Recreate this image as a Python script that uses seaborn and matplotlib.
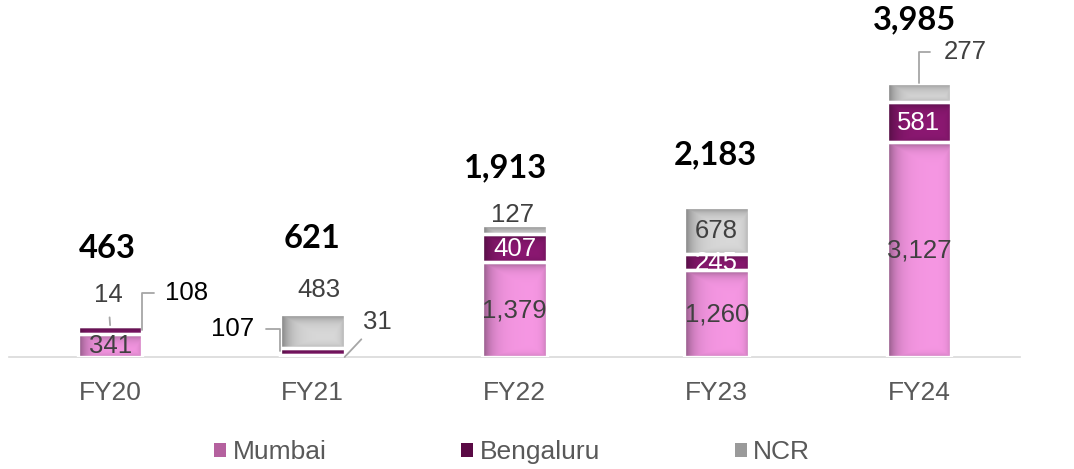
import numpy as np
import pandas as pd
import matplotlib
matplotlib.use("Agg")
import matplotlib.pyplot as plt
from matplotlib.colors import to_rgb
from matplotlib.patches import Patch
import seaborn as sns

# ---------------- data ----------------
years = ["FY20", "FY21", "FY22", "FY23", "FY24"]
mumbai = [341, 31, 1379, 1260, 3127]
bengaluru = [108, 107, 407, 245, 581]
ncr = [14, 483, 127, 678, 277]
totals = [463, 621, 1913, 2183, 3985]
series_names = ["Mumbai", "Bengaluru", "NCR"]

# ---------------- style ----------------
sns.set_theme(style="white")
plt.rcParams["font.family"] = ["Liberation Sans", "DejaVu Sans"]

W, H, DPI = 10.74, 4.69, 100
fig = plt.figure(figsize=(W, H), dpi=DPI)
ax_left, ax_right, ax_bottom_px, ax_top_px = 9, 1020, 357, 10
ax = fig.add_axes([ax_left / 1074, (469 - ax_bottom_px) / 469,
                   (ax_right - ax_left) / 1074, (ax_bottom_px - ax_top_px) / 469])

colors = {"Mumbai": "#f697e3", "Bengaluru": "#8c1872", "NCR": "#d9d9d9"}
legend_colors = {"Mumbai": "#b5619f", "Bengaluru": "#5a0a45", "NCR": "#9a9a9a"}
label_colors = {"Mumbai": "#404040", "Bengaluru": "white", "NCR": "#404040"}
BAR_W = 0.32

ax.set_xlim(-0.5, 4.5)
ax.set_ylim(0, 5047)

df = pd.DataFrame({"year": years, "Mumbai": mumbai, "Bengaluru": bengaluru, "NCR": ncr})
bottoms = np.zeros(len(years))
seg_patches = {}
seg_bottoms = {}
for name in series_names:
    n0 = len(ax.patches)
    sns.barplot(data=df, x="year", y=name, color=colors[name], width=BAR_W,
                bottom=bottoms.copy(), errorbar=None, ax=ax,
                edgecolor="white", linewidth=2.4, saturation=1, zorder=3)
    seg_patches[name] = list(ax.patches[n0:])
    seg_bottoms[name] = bottoms.copy()
    bottoms = bottoms + df[name].to_numpy()

ax.set_xlim(-0.5, 4.5)
ax.set_ylim(0, 5047)

# gradient ("inner shadow") fill for each segment
def shade(patch, base):
    bb = patch.get_window_extent()
    nx = max(int(round(bb.width)), 2)
    ny = max(int(round(bb.height)), 2)
    xs = np.arange(nx) + 0.5
    ys = np.arange(ny) + 0.5
    dl = xs[None, :]
    dr = (nx - xs)[None, :]
    dt = ys[:, None]
    db = (ny - ys)[:, None]
    s = np.maximum.reduce([
        np.exp(-dl / 9.0) * np.ones((ny, 1)),
        0.95 * np.exp(-dt / 5.0) * np.ones((1, nx)),
        0.5 * np.exp(-dr / 3.5) * np.ones((ny, 1)),
        0.4 * np.exp(-db / 3.0) * np.ones((1, nx)),
    ])
    rgb = np.array(to_rgb(base))
    img = rgb[None, None, :] * (1 - 0.48 * s[..., None])
    x0, y0 = patch.get_x(), patch.get_y()
    ax.imshow(np.clip(img, 0, 1), extent=(x0, x0 + patch.get_width(), y0, y0 + patch.get_height()),
              origin="upper", aspect="auto", interpolation="bilinear", zorder=2)
    patch.set_facecolor("none")

for name in series_names:
    for p in seg_patches[name]:
        if p.get_height() > 0:
            shade(p, colors[name])

ax.set_xlim(-0.5, 4.5)
ax.set_ylim(0, 5047)

# ---------------- labels ----------------
VFS = 18.5
def inner(i, name, val):
    y = seg_bottoms[name][i] + val / 2
    ax.annotate(f"{val:,}", (i, y), xytext=(0, -1), textcoords="offset pixels",
                ha="center", va="center", fontsize=VFS, color=label_colors[name], zorder=5)

lead = dict(arrowstyle="-", color="#a6a6a6", lw=1.3)

# FY20
inner(0, "Mumbai", mumbai[0])
ax.annotate(f"{ncr[0]:,}", (0, totals[0]), xytext=(-2, 30), textcoords="offset pixels",
            ha="center", va="center", fontsize=VFS, color="#404040",
            arrowprops=dict(**lead, shrinkA=5, shrinkB=0))
ax.annotate(f"{bengaluru[0]:,}", (BAR_W / 2, mumbai[0] + bengaluru[0] / 2), xytext=(23, 37),
            textcoords="offset pixels", ha="left", va="center", fontsize=VFS, color="black",
            arrowprops=dict(**lead, shrinkA=6, shrinkB=0, connectionstyle="angle,angleA=0,angleB=90,rad=0"))
# FY21
ax.annotate(f"{ncr[1]:,}", (1, totals[1]), xytext=(7, 24), textcoords="offset pixels",
            ha="center", va="center", fontsize=VFS, color="#404040")
ax.annotate(f"{bengaluru[1]:,}", (1 - BAR_W / 2, mumbai[1] + bengaluru[1] / 2), xytext=(-26, 22),
            textcoords="offset pixels", ha="right", va="center", fontsize=VFS, color="black",
            arrowprops=dict(**lead, shrinkA=6, shrinkB=0, connectionstyle="angle,angleA=0,angleB=90,rad=0"))
ax.annotate(f"{mumbai[1]:,}", (1 + BAR_W / 2, 0), xytext=(33, 35), textcoords="offset pixels",
            ha="center", va="center", fontsize=VFS, color="#404040",
            arrowprops=dict(**lead, shrinkA=2, shrinkB=0))
# FY22
inner(2, "Mumbai", mumbai[2])
inner(2, "Bengaluru", bengaluru[2])
ax.annotate(f"{ncr[2]:,}", (2, totals[2]), xytext=(-2, 10), textcoords="offset pixels",
            ha="center", va="center", fontsize=VFS, color="#404040", zorder=5)
# FY23
inner(3, "Mumbai", mumbai[3])
inner(3, "Bengaluru", bengaluru[3])
inner(3, "NCR", ncr[3])
# FY24
inner(4, "Mumbai", mumbai[4])
inner(4, "Bengaluru", bengaluru[4])
ax.annotate(f"{ncr[4]:,}", (4, totals[4]), xytext=(25, 31), textcoords="offset pixels",
            ha="left", va="center", fontsize=VFS, color="#404040",
            arrowprops=dict(**lead, shrinkA=8, shrinkB=0, connectionstyle="angle,angleA=0,angleB=90,rad=0"))

# totals
tot_off = [(-3, 77), (0, 76), (-9, 58), (-1, 52), (-4, 63)]
for i, t in enumerate(totals):
    ax.annotate(f"{t:,}", (i, t), xytext=tot_off[i], textcoords="offset pixels",
                ha="center", va="center", fontsize=23.5, fontweight="bold",
                color="black", family=["Lato", "DejaVu Sans"])

# ---------------- axes ----------------
sns.despine(ax=ax, left=True, top=True, right=True)
ax.spines["bottom"].set_color("#d9d9d9")
ax.spines["bottom"].set_linewidth(1.2)
ax.set_xlabel("")
ax.set_ylabel("")
ax.set_yticks([])
ax.tick_params(axis="x", length=0, labelsize=19, labelcolor="#595959", pad=17)

handles = [Patch(facecolor=legend_colors[n], edgecolor="none", label=n) for n in series_names]
fig.legend(handles=handles, loc="center", bbox_to_anchor=(0.477, 0.036), ncol=3, frameon=False,
           fontsize=19, labelcolor="#595959", handlelength=0.45, handleheight=0.45,
           handletextpad=0.25, columnspacing=5.1)

fig.savefig("out.png", dpi=DPI)
